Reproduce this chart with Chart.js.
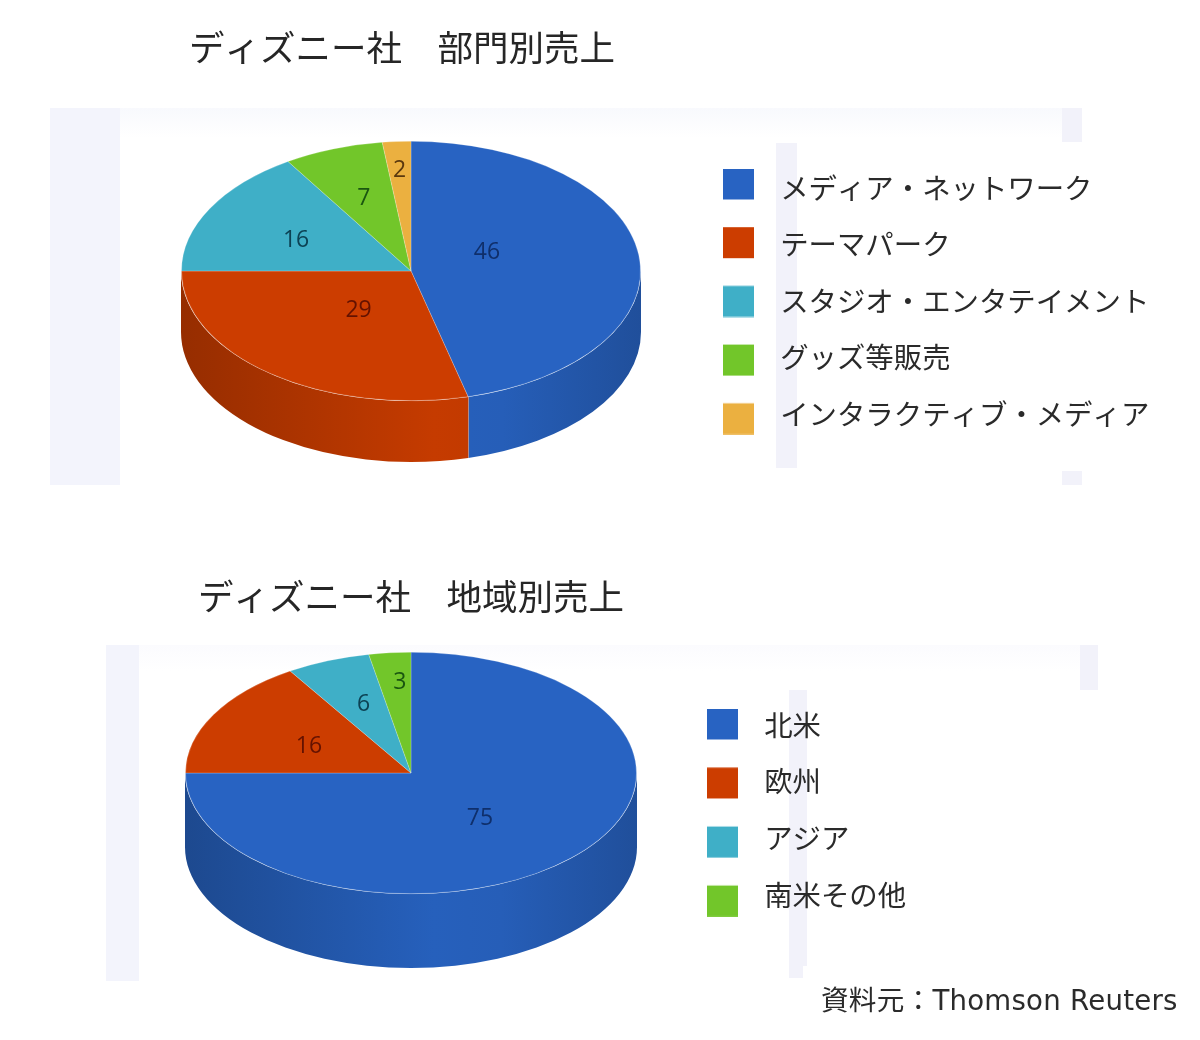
<!DOCTYPE html>
<html lang="ja">
<head>
<meta charset="utf-8">
<script src="https://cdn.jsdelivr.net/npm/chart.js@4"></script>
<style>
html,body{margin:0;padding:0;background:#fff;width:1200px;height:1040px;overflow:hidden}
.patch{position:absolute}
canvas{position:absolute;left:0}
#source{position:absolute;left:821px;top:978px;font:27.6px "DejaVu Sans","Noto Sans CJK JP";letter-spacing:.25px;color:#2b2b2b;white-space:nowrap}
</style>
</head>
<body>
<div id="patches"></div>
<canvas id="c1" width="1200" height="520" style="top:0"></canvas>
<canvas id="c2" width="1200" height="520" style="top:520px"></canvas>
<div id="source">資料元：Thomson Reuters</div>
<script>
const divisionTitle = "ディズニー社　部門別売上";
const divisionLabels = ["メディア・ネットワーク","テーマパーク","スタジオ・エンタテイメント","グッズ等販売","インタラクティブ・メディア"];
const divisionValues = [46,29,16,7,2];
const regionTitle = "ディズニー社　地域別売上";
const regionLabels = ["北米","欧州","アジア","南米その他"];
const regionValues = [75,16,6,3];
const sliceColors = ["#2863c2","#cc3d00","#3fafc7","#72c62a","#ebb040"];
const labelColors = ["#0f2f6b","#641200","#0c4254","#1a5610","#5a380e"];
const FONT = '"Noto Sans CJK JP"';

// faint scan artefacts behind the charts
[[50,108,70,377,"#f3f4fc"],[120,108,942,30,"linear-gradient(#f8f9fd,#ffffff)"],[1062,108,20,34,"#f2f2fa"],[776,143,21,325,"#f2f2fa"],[1062,471,20,14,"#f2f2fa"],
 [106,645,33,336,"#f3f4fc"],[139,645,941,26,"linear-gradient(#fbfbfe,#ffffff)"],[1080,645,18,45,"#f2f2fa"],[789,690,18,276,"#f2f2fa"],[789,966,14,12,"#f2f2fa"]]
.forEach(([l,t,w,h,c])=>{const d=document.createElement("div");d.className="patch";
  d.style.cssText=`left:${l}px;top:${t}px;width:${w}px;height:${h}px;background:${c}`;
  document.getElementById("patches").appendChild(d);});

// legend swatch; rowShift moves the square off its text row, as the swatch column is spaced wider than the text column
function swatch(color,rowShift){const m=Math.ceil(Math.abs(rowShift));const s=document.createElement("canvas");s.width=31;s.height=31+2*m;
  const g=s.getContext("2d");g.fillStyle=color;g.fillRect(0,m+rowShift,31,31);return s;}
function shade(hex,f){const n=parseInt(hex.slice(1),16);
  return `rgb(${(n>>16)*f|0},${((n>>8)&255)*f|0},${(n&255)*f|0})`;}

const pie3d = {
  id:"pie3d",
  afterLayout(chart,args,o){
    chart.chartArea={left:o.cx-o.r,right:o.cx+o.r,top:o.cy-o.r,bottom:o.cy+o.r,width:2*o.r,height:2*o.r};
    chart.titleBlock.left=o.titleX; chart.titleBlock.right=1200;
    const lg=chart.legend, pad=lg.options.labels.padding;
    lg.left=o.legendX-12-pad; lg.right=1200; lg.top=o.legendY-14.2-pad; lg.bottom=520;
  },
  beforeDatasetsDraw(chart,args,o){
    const ctx=chart.ctx, arcs=chart.getDatasetMeta(0).data;
    const g=(c)=>{const l=ctx.createLinearGradient(o.cx-o.r,0,o.cx+o.r,0);
      l.addColorStop(0,shade(c,.74));l.addColorStop(.55,shade(c,.97));l.addColorStop(.7,shade(c,.95));l.addColorStop(1,shade(c,.8));return l;};
    arcs.forEach((a,i)=>{
      const lo=Math.max(a.startAngle,0), hi=Math.min(a.endAngle,Math.PI);
      if(lo>=hi) return;
      ctx.beginPath();
      ctx.ellipse(o.cx,o.cy,o.r,o.ry,0,lo,hi);
      ctx.ellipse(o.cx,o.cy+o.depth,o.r,o.ry,0,hi,lo,true);
      ctx.closePath();
      ctx.fillStyle=g(sliceColors[i]);ctx.fill();
      if(hi<Math.PI){const x=o.cx+o.r*Math.cos(hi),y=o.cy+o.ry*Math.sin(hi);
        ctx.strokeStyle="rgba(255,190,150,.75)";ctx.lineWidth=1;
        ctx.beginPath();ctx.moveTo(x,y);ctx.lineTo(x,y+o.depth);ctx.stroke();}
    });
    ctx.save();
    ctx.translate(o.cx,o.cy);ctx.scale(1,o.ry/o.r);ctx.translate(-o.cx,-o.cy);
  },
  afterDatasetsDraw(chart,args,o){
    const ctx=chart.ctx;
    ctx.restore();
    ctx.save();
    ctx.font='23px "Open Sans"';ctx.textAlign="center";ctx.textBaseline="middle";
    chart.getDatasetMeta(0).data.forEach((a,i)=>{
      const m=(a.startAngle+a.endAngle)/2+o.labelNudge[i]*Math.PI/180, f=o.labelRadius[i];
      ctx.fillStyle=labelColors[i];
      ctx.fillText(chart.data.datasets[0].data[i],o.cx+o.r*f*Math.cos(m),o.cy+o.ry*f*Math.sin(m)+1.5);
    });
    ctx.restore();
  }
};

function makeChart(id,title,labels,values,place,legendGap,titlePad,swatchStart,swatchStep){
  return new Chart(document.getElementById(id),{
    type:"pie",
    plugins:[pie3d],
    data:{labels,datasets:[{data:values,backgroundColor:sliceColors.slice(0,values.length),
      borderColor:"rgba(255,255,255,.28)",borderWidth:1}]},
    options:{
      responsive:false,animation:false,events:[],devicePixelRatio:1,
      plugins:{
        pie3d:place,
        tooltip:{enabled:false},
        title:{display:true,text:title,align:"start",color:"#262626",padding:titlePad,
          font:{family:FONT,size:35.5,weight:"normal"}},
        legend:{position:"right",align:"start",
          labels:{usePointStyle:true,pointStyleWidth:56,padding:legendGap,color:"#2a2a2a",
            font:{family:FONT,size:28.4},
            generateLabels:(c)=>c.data.labels.map((t,i)=>({text:t,index:i,pointStyle:swatch(sliceColors[i],swatchStart+swatchStep*i),
              fillStyle:sliceColors[i],strokeStyle:sliceColors[i],lineWidth:0,fontColor:"#2a2a2a"}))}}
      }
    }
  });
}
makeChart("c1",divisionTitle,divisionLabels,divisionValues,
  {cx:411,cy:271,r:230,ry:130,depth:61,titleX:189,legendX:722,legendY:188,
   labelRadius:[.364,.372,.557,.605,.786],labelNudge:[-17.8,0,-2.6,0,0]},28.1,{top:26,bottom:10},-4,2.2);
makeChart("c2",regionTitle,regionLabels,regionValues,
  {cx:411,cy:253,r:226,ry:121,depth:74,titleX:198,legendX:706,legendY:205,
   labelRadius:[.475,.507,.615,.762],labelNudge:[5,-1.7,1.6,1.7]},28.3,{top:55,bottom:10},-1,2.3);
</script>
</body>
</html>
